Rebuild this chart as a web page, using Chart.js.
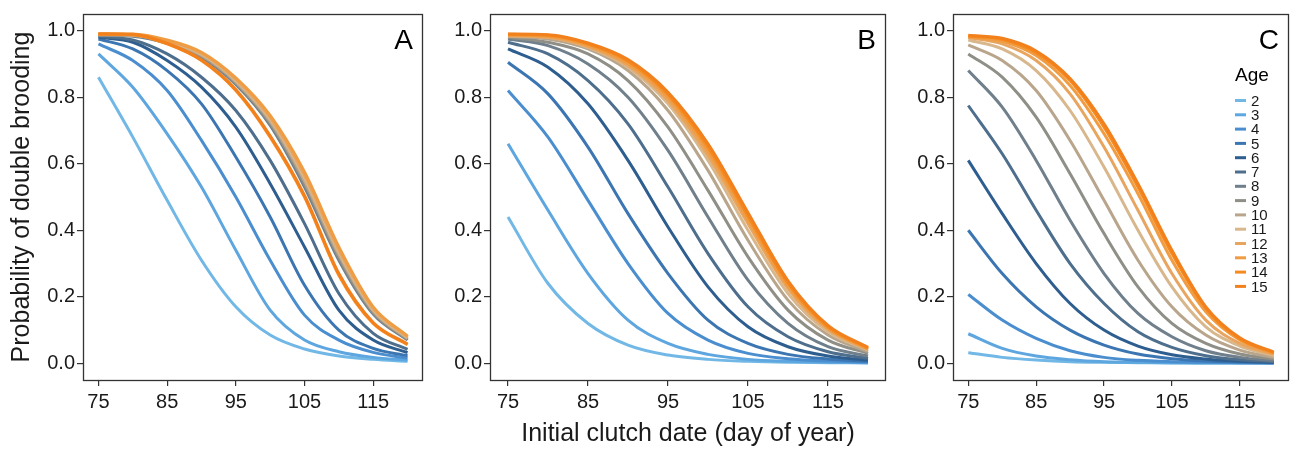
<!DOCTYPE html>
<html>
<head>
<meta charset="utf-8">
<script src="https://cdn.jsdelivr.net/npm/chart.js@4/dist/chart.umd.min.js"></script>
<style>
html,body{margin:0;padding:0;background:#fff;}
body{width:1290px;height:449px;position:relative;overflow:hidden;}
canvas{position:absolute;top:0;}
</style>
</head>
<body>
<canvas id="cA" width="430" height="449" style="left:0px"></canvas>
<canvas id="cB" width="465" height="449" style="left:430px"></canvas>
<canvas id="cC" width="395" height="449" style="left:895px"></canvas>
<script>
// ---- data ----
const days = [75, 80, 85, 90, 95, 100, 105, 110, 115, 120];
const ages = [2, 3, 4, 5, 6, 7, 8, 9, 10, 11, 12, 13, 14, 15];
const xTickValues = [75, 85, 95, 105, 115];
const yTickValues = [0, 0.2, 0.4, 0.6, 0.8, 1.0];
const panelLetters = ['A', 'B', 'C'];
const xTitle = 'Initial clutch date (day of year)';
const yTitle = 'Probability of double brooding';
const legendTitle = 'Age';
const ageColors = ['#72b8e6', '#5ea6df', '#4a8ecf', '#3c76b2', '#2e5e8f', '#4d6e8c', '#6f7f8b',
  '#8f8f87', '#b8a58c', '#d8b78c', '#e8a55f', '#f09c42', '#f58a1f', '#f2801c'];

// probability per age (rows: ages 2..15), columns: days
const panelA = [
  [0.86, 0.68, 0.49, 0.31, 0.17, 0.085, 0.043, 0.022, 0.012, 0.006],
  [0.93, 0.83, 0.69, 0.53, 0.34, 0.16, 0.07, 0.035, 0.018, 0.01],
  [0.96, 0.91, 0.82, 0.67, 0.50, 0.31, 0.145, 0.07, 0.033, 0.016],
  [0.975, 0.945, 0.88, 0.78, 0.62, 0.44, 0.235, 0.10, 0.045, 0.023],
  [0.98, 0.965, 0.91, 0.83, 0.71, 0.54, 0.35, 0.16, 0.07, 0.032],
  [0.983, 0.972, 0.93, 0.86, 0.76, 0.61, 0.42, 0.21, 0.09, 0.042],
  [0.986, 0.983, 0.962, 0.92, 0.838, 0.715, 0.53, 0.31, 0.148, 0.07],
  [0.987, 0.985, 0.964, 0.923, 0.842, 0.721, 0.539, 0.318, 0.152, 0.072],
  [0.988, 0.986, 0.966, 0.926, 0.846, 0.727, 0.548, 0.326, 0.157, 0.075],
  [0.989, 0.987, 0.968, 0.929, 0.85, 0.733, 0.557, 0.334, 0.161, 0.077],
  [0.99, 0.988, 0.97, 0.932, 0.854, 0.739, 0.566, 0.342, 0.166, 0.08],
  [0.99, 0.99, 0.972, 0.935, 0.858, 0.745, 0.575, 0.35, 0.17, 0.082],
  [0.99, 0.988, 0.96, 0.91, 0.82, 0.68, 0.50, 0.265, 0.12, 0.056],
  [0.99, 0.989, 0.962, 0.912, 0.823, 0.684, 0.505, 0.27, 0.123, 0.058]
];
const panelB = [
  [0.44, 0.24, 0.12, 0.055, 0.025, 0.012, 0.006, 0.003, 0.002, 0.001],
  [0.66, 0.46, 0.27, 0.13, 0.06, 0.027, 0.012, 0.006, 0.003, 0.002],
  [0.82, 0.68, 0.49, 0.30, 0.15, 0.07, 0.03, 0.014, 0.007, 0.004],
  [0.905, 0.81, 0.65, 0.45, 0.27, 0.13, 0.06, 0.027, 0.013, 0.006],
  [0.945, 0.89, 0.78, 0.61, 0.41, 0.23, 0.11, 0.05, 0.022, 0.01],
  [0.965, 0.93, 0.85, 0.72, 0.53, 0.33, 0.17, 0.08, 0.035, 0.015],
  [0.975, 0.955, 0.90, 0.80, 0.64, 0.44, 0.25, 0.12, 0.05, 0.022],
  [0.98, 0.965, 0.93, 0.85, 0.71, 0.52, 0.32, 0.16, 0.07, 0.03],
  [0.983, 0.975, 0.945, 0.88, 0.76, 0.58, 0.37, 0.19, 0.085, 0.035],
  [0.985, 0.98, 0.95, 0.89, 0.78, 0.61, 0.40, 0.21, 0.095, 0.04],
  [0.985, 0.98, 0.952, 0.895, 0.79, 0.625, 0.42, 0.225, 0.102, 0.042],
  [0.987, 0.983, 0.956, 0.902, 0.80, 0.638, 0.432, 0.233, 0.106, 0.044],
  [0.989, 0.986, 0.96, 0.908, 0.808, 0.65, 0.443, 0.241, 0.11, 0.046],
  [0.99, 0.988, 0.963, 0.913, 0.815, 0.66, 0.453, 0.248, 0.114, 0.048]
];
const panelC = [
  [0.032, 0.018, 0.01, 0.005, 0.003, 0.002, 0.001, 0.001, 0.001, 0.001],
  [0.089, 0.045, 0.022, 0.011, 0.005, 0.003, 0.002, 0.001, 0.001, 0.001],
  [0.207, 0.13, 0.075, 0.038, 0.018, 0.009, 0.005, 0.003, 0.002, 0.001],
  [0.40, 0.27, 0.17, 0.10, 0.055, 0.028, 0.014, 0.007, 0.004, 0.002],
  [0.61, 0.45, 0.30, 0.18, 0.10, 0.052, 0.026, 0.013, 0.006, 0.003],
  [0.775, 0.63, 0.46, 0.30, 0.18, 0.095, 0.048, 0.023, 0.011, 0.005],
  [0.88, 0.77, 0.61, 0.43, 0.27, 0.15, 0.08, 0.038, 0.018, 0.008],
  [0.93, 0.86, 0.74, 0.57, 0.39, 0.23, 0.12, 0.06, 0.028, 0.013],
  [0.957, 0.91, 0.82, 0.67, 0.49, 0.31, 0.17, 0.085, 0.04, 0.018],
  [0.972, 0.945, 0.88, 0.76, 0.59, 0.40, 0.23, 0.11, 0.052, 0.023],
  [0.979, 0.96, 0.91, 0.81, 0.65, 0.46, 0.27, 0.13, 0.06, 0.027],
  [0.981, 0.968, 0.925, 0.835, 0.69, 0.51, 0.31, 0.155, 0.07, 0.03],
  [0.984, 0.974, 0.934, 0.85, 0.71, 0.53, 0.33, 0.165, 0.074, 0.032],
  [0.986, 0.977, 0.939, 0.856, 0.72, 0.54, 0.34, 0.17, 0.077, 0.034]
];

// ---- rendering ----
const FONT = '"Liberation Sans", Arial, Helvetica, sans-serif';
const INK = '#1a1a1a';

const boxPlugin = {
  id: 'box',
  afterDraw(chart, args, opts) {
    const a = chart.chartArea, ctx = chart.ctx;
    ctx.save();
    ctx.strokeStyle = '#333';
    ctx.lineWidth = 1.3;
    ctx.strokeRect(Math.round(a.left) + 0.5, Math.round(a.top) + 0.5,
      Math.round(a.right - a.left) - 1, Math.round(a.bottom - a.top));
    // panel letter
    ctx.fillStyle = '#000';
    ctx.font = '28px ' + FONT;
    ctx.textAlign = 'right';
    ctx.textBaseline = 'alphabetic';
    ctx.fillText(opts.letter, a.right - 10, a.top + 35);
    if (opts.legend) {
      ctx.textAlign = 'left';
      ctx.font = '19px ' + FONT;
      ctx.fillText(legendTitle, a.right - 54, 81);
      ctx.font = '15px ' + FONT;
      ctx.textBaseline = 'middle';
      ages.forEach((age, i) => {
        const y = 100.5 + i * 14.3;
        ctx.strokeStyle = ageColors[i];
        ctx.lineWidth = 3;
        ctx.beginPath();
        ctx.moveTo(a.right - 54, y);
        ctx.lineTo(a.right - 43, y);
        ctx.stroke();
        ctx.fillStyle = INK;
        ctx.fillText(String(age), a.right - 38, y + 1);
      });
    }
    ctx.restore();
  }
};

function makeChart(id, rows, letter, yAxisWidth, padRight, showYTitle, showXTitle, showLegend) {
  const datasets = rows.map((vals, i) => ({
    label: String(ages[i]),
    data: days.map((d, j) => ({ x: d, y: vals[j] })),
    borderColor: ageColors[i],
    borderWidth: 3,
    pointRadius: 0,
    cubicInterpolationMode: 'monotone',
    fill: false,
    order: -ages[i]
  }));
  return new Chart(document.getElementById(id), {
    type: 'line',
    data: { datasets },
    plugins: [boxPlugin],
    options: {
      responsive: false,
      animation: false,
      events: [],
      layout: { padding: { top: 13, right: padRight, bottom: 0, left: 0 } },
      plugins: {
        legend: { display: false },
        tooltip: { enabled: false },
        box: { letter, legend: showLegend }
      },
      scales: {
        x: {
          type: 'linear',
          min: 72.75, max: 122.25,
          afterBuildTicks: s => { s.ticks = xTickValues.map(v => ({ value: v })); },
          afterFit: s => { s.height = 69; },
          grid: { drawOnChartArea: false, drawTicks: true, tickLength: 6, color: '#333', lineWidth: 1.2 },
          border: { display: false },
          ticks: { color: INK, font: { family: FONT, size: 20 }, padding: 4, maxRotation: 0, autoSkip: false,
                   callback: v => String(v) },
          title: { display: showXTitle, text: xTitle, color: INK, font: { family: FONT, size: 25 },
                   padding: { top: 0, bottom: 0 } }
        },
        y: {
          type: 'linear',
          min: -0.05, max: 1.05,
          afterBuildTicks: s => { s.ticks = yTickValues.map(v => ({ value: v })); },
          afterFit: s => { s.width = yAxisWidth; },
          grid: { drawOnChartArea: false, drawTicks: true, tickLength: 6, color: '#333', lineWidth: 1.2 },
          border: { display: false },
          ticks: { color: INK, font: { family: FONT, size: 20 }, padding: 2,
                   callback: v => Number(v).toFixed(1) },
          title: { display: showYTitle, text: yTitle, color: INK, font: { family: FONT, size: 25 },
                   padding: { top: 7, bottom: 0 } }
        }
      }
    }
  });
}

makeChart('cA', panelA, panelLetters[0], 83, 7, true, false, false);
makeChart('cB', panelB, panelLetters[1], 60, 9, false, true, false);
makeChart('cC', panelC, panelLetters[2], 58, 1, false, false, true);
</script>
</body>
</html>
